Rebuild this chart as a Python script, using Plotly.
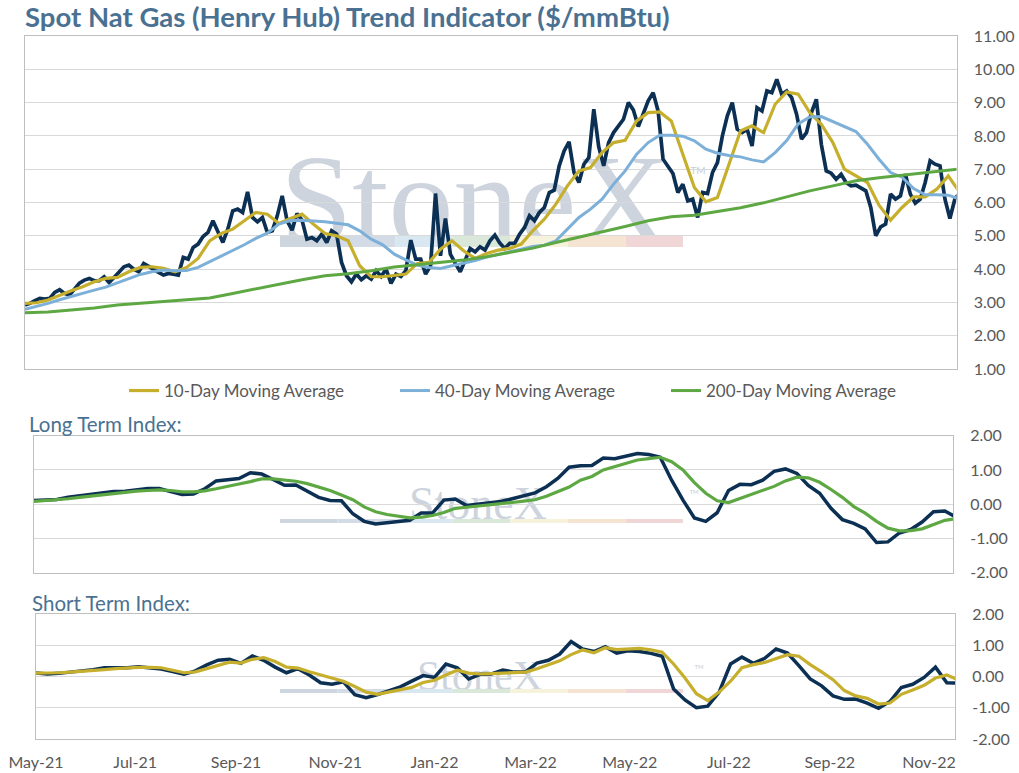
import plotly.graph_objects as go
import pandas as pd

# ---------------- data ----------------
title_text = "Spot Nat Gas (Henry Hub) Trend Indicator ($/mmBtu)"
start_date = "2021-05-01"
end_date = "2022-11-17"

# spot price, one reading every 3 days
price = [
    2.92, 2.97, 3.05, 3.12, 3.10, 3.12, 3.30, 3.38, 3.27, 3.22,
    3.40, 3.58, 3.67, 3.72, 3.65, 3.65, 3.77, 3.60, 3.75, 3.90,
    4.07, 4.12, 4.00, 3.92, 4.17, 4.08, 3.98, 3.90, 3.82, 3.87,
    3.85, 3.82, 4.35, 4.30, 4.65, 4.75, 4.98, 5.10, 5.45, 5.10,
    4.80, 5.20, 5.75, 5.80, 5.70, 6.32, 5.55, 5.42, 5.55, 5.10,
    5.15, 5.60, 6.20, 5.45, 5.17, 5.67, 5.47, 4.90, 4.95, 4.85,
    5.05, 4.80, 5.15, 5.05,
    4.20, 3.80, 3.62, 3.85, 3.68, 3.80, 3.70, 3.95, 3.78, 4.00,
    3.57, 3.85, 3.78, 3.95, 4.87, 4.30, 4.30, 3.85, 4.10, 6.27,
    4.40, 5.52, 4.45, 4.17, 3.92, 4.27, 4.62, 4.52, 4.67, 4.57,
    4.85, 5.02, 4.78, 4.62, 4.77, 4.77, 5.05, 5.25, 5.60, 5.45,
    5.70, 5.85, 6.30, 6.37, 7.10, 7.55, 7.82, 6.90, 6.60, 7.15,
    7.35, 8.80, 7.67, 7.10, 7.80, 8.10, 8.30, 8.50, 9.00, 8.78,
    8.28, 8.70, 9.05, 9.30, 8.75, 7.30, 7.10,
    6.87, 6.30, 6.55, 6.05, 6.10, 5.55, 6.30, 6.27, 6.90, 7.20,
    8.00, 8.60, 9.00, 8.20, 8.10, 8.20, 7.70, 8.85, 8.75, 9.35,
    9.30, 9.70, 9.25, 9.35, 9.15, 8.65, 7.90, 8.10, 8.70, 9.10,
    7.75, 6.95, 6.88, 6.70, 6.85, 6.60, 6.50, 6.52, 6.45, 6.35,
    5.85, 5.00, 5.27, 5.35, 6.25, 6.10, 6.20, 6.85, 6.25, 5.98,
    6.10, 6.60, 7.25, 7.15, 7.10, 6.10, 5.52, 6.10, 6.30,
]

# moving averages, one reading every 7 days
ma10 = [
    2.97, 2.99, 3.07, 3.22, 3.35, 3.47, 3.62, 3.72, 3.75, 3.92,
    4.05, 4.07, 4.02, 3.92, 4.05, 4.32, 4.85, 5.07, 5.20, 5.45,
    5.70, 5.65, 5.37, 5.52, 5.65, 5.35, 5.07, 5.00,
    4.85, 4.10, 3.77, 3.77, 3.82, 3.85, 4.17, 4.20, 4.60, 4.85,
    4.55, 4.32, 4.47, 4.57, 4.62, 4.75, 5.15, 5.50, 5.95, 6.50,
    6.95, 7.05, 7.50, 7.80, 7.87, 8.45, 8.70, 8.72,
    8.45, 7.45, 6.45, 6.02, 6.15, 7.15, 8.15, 8.30, 8.10, 8.95,
    9.32, 9.25, 8.70, 8.35, 7.80, 7.00, 6.80, 6.60, 5.92, 5.47,
    5.85, 6.17, 6.17, 6.40, 6.80, 6.30,
]
ma40 = [
    2.79, 2.87, 2.97, 3.08, 3.18, 3.29, 3.37, 3.46, 3.59, 3.72,
    3.84, 3.92, 3.97, 3.95, 3.96, 4.05, 4.22, 4.38, 4.55, 4.73,
    4.92, 5.08, 5.35, 5.46, 5.47, 5.45, 5.42, 5.38,
    5.33, 5.15, 4.90, 4.73, 4.45, 4.28, 4.12, 4.05, 4.02, 4.10,
    4.17, 4.26, 4.36, 4.43, 4.52, 4.60, 4.68, 4.72, 4.85, 5.20,
    5.55, 5.80, 6.10, 6.55, 6.95, 7.45, 7.80, 8.02,
    8.02, 7.99, 7.85, 7.60, 7.48, 7.41, 7.37, 7.28, 7.22, 7.50,
    7.86, 8.36, 8.57, 8.58, 8.43, 8.30, 8.13, 7.75, 7.30, 6.90,
    6.76, 6.42, 6.23, 6.23, 6.22, 6.10,
]
# 200-day average, one reading every 14 days
ma200 = [
    2.69, 2.71, 2.77, 2.83, 2.92, 2.97, 3.01, 3.06, 3.13, 3.27,
    3.41, 3.54, 3.68, 3.80, 3.86, 3.95, 4.06, 4.13, 4.20, 4.27,
    4.37, 4.50, 4.63, 4.80, 4.96, 5.10, 5.28, 5.45, 5.57, 5.62,
    5.72, 5.84, 5.99, 6.17, 6.35, 6.50, 6.65, 6.74, 6.82, 6.91,
    6.99, 7.05,
]

# trend indices, one reading every 7 days
lt_index = [
    0.11, 0.12, 0.14, 0.20, 0.24, 0.28, 0.34, 0.37, 0.38, 0.43,
    0.46, 0.46, 0.38, 0.28, 0.30, 0.45, 0.68, 0.72, 0.75, 0.92,
    0.88, 0.72, 0.55, 0.56, 0.38, 0.20, 0.11, 0.10, -0.28, -0.50,
    -0.58, -0.55, -0.50, -0.47, -0.26, -0.26, 0.12, 0.15, -0.04, 0.00,
    0.03,
    0.08, 0.16, 0.25, 0.33, 0.51, 0.75, 1.08, 1.12, 1.13, 1.35,
    1.33, 1.40, 1.48, 1.45, 1.37, 0.70, 0.12, -0.40, -0.50, -0.25,
    0.40, 0.58, 0.57, 0.70, 0.96, 1.03, 0.90, 0.55, 0.32, -0.12,
    -0.45, -0.56, -0.72, -1.12, -1.10, -0.84, -0.74, -0.52, -0.22, -0.20,
    -0.38,
]
lt_signal = [
    0.08, 0.10, 0.13, 0.16, 0.20, 0.24, 0.28, 0.31, 0.35, 0.38,
    0.40, 0.42, 0.40, 0.36, 0.36, 0.39, 0.45, 0.51, 0.59, 0.66,
    0.74, 0.74, 0.71, 0.67, 0.60, 0.50, 0.40, 0.27, 0.13, -0.08,
    -0.22, -0.30, -0.36, -0.40, -0.38, -0.33, -0.24, -0.12, -0.09, -0.06,
    -0.03,
    0.00, 0.05, 0.09, 0.13, 0.23, 0.37, 0.50, 0.70, 0.81, 1.00,
    1.10, 1.20, 1.29, 1.33, 1.37, 1.24, 1.00, 0.63, 0.32, 0.10,
    0.05, 0.17, 0.28, 0.40, 0.52, 0.68, 0.79, 0.77, 0.64, 0.43,
    0.20, -0.07, -0.26, -0.50, -0.70, -0.78, -0.77, -0.72, -0.60, -0.47,
    -0.42,
]
st_index = [
    0.11, 0.08, 0.10, 0.14, 0.17, 0.22, 0.28, 0.28, 0.28, 0.31,
    0.27, 0.24, 0.16, 0.07, 0.18, 0.37, 0.52, 0.55, 0.42, 0.66,
    0.52, 0.30, 0.12, 0.25, 0.05, -0.20, -0.25, -0.17, -0.58, -0.68,
    -0.58, -0.45, -0.33, -0.15, 0.03, -0.03, 0.40, 0.28, -0.08, 0.07,
    0.08,
    0.21, 0.14, 0.15, 0.43, 0.52, 0.72, 1.12, 0.88, 0.80, 0.95,
    0.75, 0.82, 0.80, 0.74, 0.65, -0.40, -0.75, -1.00, -0.95, -0.50,
    0.40, 0.62, 0.42, 0.58, 0.88, 0.75, 0.35, -0.08, -0.30, -0.62,
    -0.73, -0.72, -0.85, -1.02, -0.80, -0.35, -0.25, -0.03, 0.30, -0.20,
    -0.21,
]
st_signal = [
    0.11, 0.11, 0.12, 0.14, 0.16, 0.19, 0.22, 0.25, 0.28, 0.29,
    0.29, 0.28, 0.20, 0.12, 0.15, 0.25, 0.37, 0.46, 0.43, 0.55,
    0.60, 0.48, 0.30, 0.27, 0.15, 0.05, -0.07, -0.15, -0.32, -0.50,
    -0.57, -0.50, -0.42, -0.35, -0.19, -0.12, 0.05, 0.20, 0.11, 0.08,
    0.09,
    0.11, 0.12, 0.14, 0.25, 0.37, 0.50, 0.70, 0.85, 0.76, 0.92,
    0.86, 0.88, 0.90, 0.85, 0.78, 0.40, -0.05, -0.55, -0.77, -0.50,
    -0.15, 0.28, 0.38, 0.45, 0.58, 0.70, 0.65, 0.38, 0.15, -0.10,
    -0.45, -0.62, -0.70, -0.88, -0.85, -0.57, -0.43, -0.28, -0.05, 0.05,
    -0.11,
]

series_names = ["10-Day Moving Average", "40-Day Moving Average", "200-Day Moving Average"]
price_tickvals = [1, 2, 3, 4, 5, 6, 7, 8, 9, 10, 11]
price_ticktext = ["1.00", "2.00", "3.00", "4.00", "5.00", "6.00", "7.00", "8.00", "9.00", "10.00", "11.00"]
index_tickvals = [-2, -1, 0, 1, 2]
index_ticktext = ["-2.00", "-1.00", "0.00", "1.00", "2.00"]
panel_titles = ["Long Term Index:", "Short Term Index:"]

price_dates = pd.date_range(start_date, periods=len(price), freq="3D")
ma_dates = pd.date_range(start_date, periods=len(ma10), freq="7D")
ma200_dates = pd.date_range(start_date, periods=len(ma200), freq="14D")
idx_dates = pd.date_range(start_date, periods=len(lt_index), freq="7D")

# ---------------- style ----------------
W, H = 1019, 773
NAVY = "#0c3053"
GOLD = "#c5af2d"
BLUE = "#7db0d9"
GREEN = "#5ea843"
GRID = "#d9d9d9"
BORDER = "#bfbfbf"
LABEL = "#595959"
TITLE = "#4a7191"
FONT = "Lato"


def px(x):
    return x / W


def py(y):
    return 1 - y / H


fig = go.Figure()

fig.add_trace(go.Scatter(x=price_dates, y=price, mode="lines", line=dict(color=NAVY, width=3.7),
                         showlegend=False, xaxis="x", yaxis="y", name="Spot"))
fig.add_trace(go.Scatter(x=ma_dates, y=ma10, mode="lines", line=dict(color=GOLD, width=3.2),
                         name=series_names[0], xaxis="x", yaxis="y"))
fig.add_trace(go.Scatter(x=ma_dates, y=ma40, mode="lines", line=dict(color=BLUE, width=3.0),
                         name=series_names[1], xaxis="x", yaxis="y"))
fig.add_trace(go.Scatter(x=ma200_dates, y=ma200, mode="lines", line=dict(color=GREEN, width=3.0),
                         name=series_names[2], xaxis="x", yaxis="y"))

fig.add_trace(go.Scatter(x=idx_dates, y=lt_index, mode="lines", line=dict(color=NAVY, width=3.5),
                         showlegend=False, xaxis="x2", yaxis="y2", name="Long Term Index"))
fig.add_trace(go.Scatter(x=idx_dates, y=lt_signal, mode="lines", line=dict(color=GREEN, width=3.2),
                         showlegend=False, xaxis="x2", yaxis="y2", name="Long Term Signal"))

fig.add_trace(go.Scatter(x=idx_dates, y=st_index, mode="lines", line=dict(color=NAVY, width=3.5),
                         showlegend=False, xaxis="x3", yaxis="y3", name="Short Term Index"))
fig.add_trace(go.Scatter(x=idx_dates, y=st_signal, mode="lines", line=dict(color=GOLD, width=3.2),
                         showlegend=False, xaxis="x3", yaxis="y3", name="Short Term Signal"))

xrange = [start_date, end_date]
common_x = dict(range=xrange, type="date", showgrid=False, showline=True, mirror=True,
                linecolor=BORDER, linewidth=1, zeroline=False, automargin=False)
tick_y = dict(side="right", showgrid=True, gridcolor=GRID, gridwidth=1, showline=True, mirror=True,
              linecolor=BORDER, linewidth=1, zeroline=False, ticks="outside", ticklen=13,
              tickcolor="rgba(0,0,0,0)", tickfont=dict(family=FONT, size=16, color=LABEL),
              automargin=False)

fig.update_layout(
    template="none",
    width=W, height=H,
    margin=dict(l=0, r=0, t=0, b=0, autoexpand=False),
    paper_bgcolor="white", plot_bgcolor="rgba(0,0,0,0)",
    font=dict(family=FONT, color=LABEL),
    hovermode=False,
    xaxis=dict(domain=[px(25), px(956.5)], anchor="y", showticklabels=False, ticks="", **common_x),
    yaxis=dict(domain=[py(369), py(36)], anchor="x", range=[1, 11], tickvals=price_tickvals,
               ticktext=price_ticktext, **tick_y),
    xaxis2=dict(domain=[px(34), px(953)], anchor="y2", showticklabels=False, ticks="", **common_x),
    yaxis2=dict(domain=[py(572.7), py(435.7)], anchor="x2", range=[-2, 2], tickvals=index_tickvals,
                ticktext=index_ticktext, **tick_y),
    xaxis3=dict(domain=[px(36), px(955)], anchor="y3", tickformat="%b-%y", dtick="M2", tick0=start_date,
                ticks="outside", ticklen=9, tickcolor="rgba(0,0,0,0)",
                tickfont=dict(family=FONT, size=16, color=LABEL), **common_x),
    xaxis4=dict(overlaying="x3", anchor="y3", side="top", range=xrange, type="date", dtick="M2",
                tick0=start_date, ticks="inside", ticklen=6, tickcolor=BORDER, showticklabels=False,
                showgrid=False, showline=False, zeroline=False, automargin=False),
    yaxis3=dict(domain=[py(739), py(614)], anchor="x3", range=[-2, 2], tickvals=index_tickvals,
                ticktext=index_ticktext, **tick_y),
    legend=dict(orientation="h", x=px(124), xanchor="left", y=py(391), yanchor="middle",
                font=dict(family=FONT, size=17, color=LABEL), entrywidth=226, entrywidthmode="pixels",
                bgcolor="rgba(0,0,0,0)", itemwidth=30, tracegroupgap=0),
)

# ---------------- titles ----------------
fig.add_annotation(text=title_text, x=px(23), y=py(16), xref="paper", yref="paper", xanchor="left",
                   yanchor="middle", showarrow=False,
                   font=dict(family=FONT, size=27.5, color=TITLE, weight="bold"))
fig.add_annotation(text=panel_titles[0], x=px(27), y=py(424), xref="paper", yref="paper", xanchor="left",
                   yanchor="middle", showarrow=False, font=dict(family=FONT, size=20.5, color=TITLE))
fig.add_annotation(text=panel_titles[1], x=px(30), y=py(603), xref="paper", yref="paper", xanchor="left",
                   yanchor="middle", showarrow=False, font=dict(family=FONT, size=20.5, color=TITLE))

# ---------------- watermark (behind the grid) ----------------
WM_TEXT = "#cdd4dd"
bar_colors = ["#cdd5df", "#d3dce6", "#d9e7f1", "#d9e8d9", "#f6f2dc", "#f6e4d3", "#f1d6d8"]


def watermark(cx, cy, size, bar_y0, bar_y1, tm_x, tm_y, tm_size):
    fig.add_shape(type="rect", xref="paper", yref="paper", x0=px(cx - 230), x1=px(cx + 230),
                  y0=py(cy + size * 0.45), y1=py(cy - size * 0.45), line=dict(width=0),
                  fillcolor="rgba(0,0,0,0)", layer="below",
                  label=dict(text="StoneX", textposition="middle center",
                             font=dict(family="Liberation Serif", size=size, color=WM_TEXT)))
    x_edges = [280 + i * (683 - 280) / 7 for i in range(8)]
    for i, c in enumerate(bar_colors):
        fig.add_shape(type="rect", xref="paper", yref="paper", x0=px(x_edges[i]), x1=px(x_edges[i + 1]),
                      y0=py(bar_y1), y1=py(bar_y0), line=dict(width=0), fillcolor=c, layer="below")
    fig.add_shape(type="rect", xref="paper", yref="paper", x0=px(tm_x - 10), x1=px(tm_x + 10),
                  y0=py(tm_y + 5), y1=py(tm_y - 5), line=dict(width=0), fillcolor="rgba(0,0,0,0)",
                  layer="below",
                  label=dict(text="TM", textposition="middle center",
                             font=dict(family=FONT, size=tm_size, color="#c5ccd6")))


watermark(475, 186, 130, 236, 247, 698, 170, 10)
watermark(478, 498, 46, 519, 523, 694, 491, 6)
watermark(480, 671, 42, 689, 693, 699, 666, 6)

fig.write_html("out.html", config={"displayModeBar": False},
               post_script="document.body.style.margin='0';document.body.style.overflow='hidden';")
